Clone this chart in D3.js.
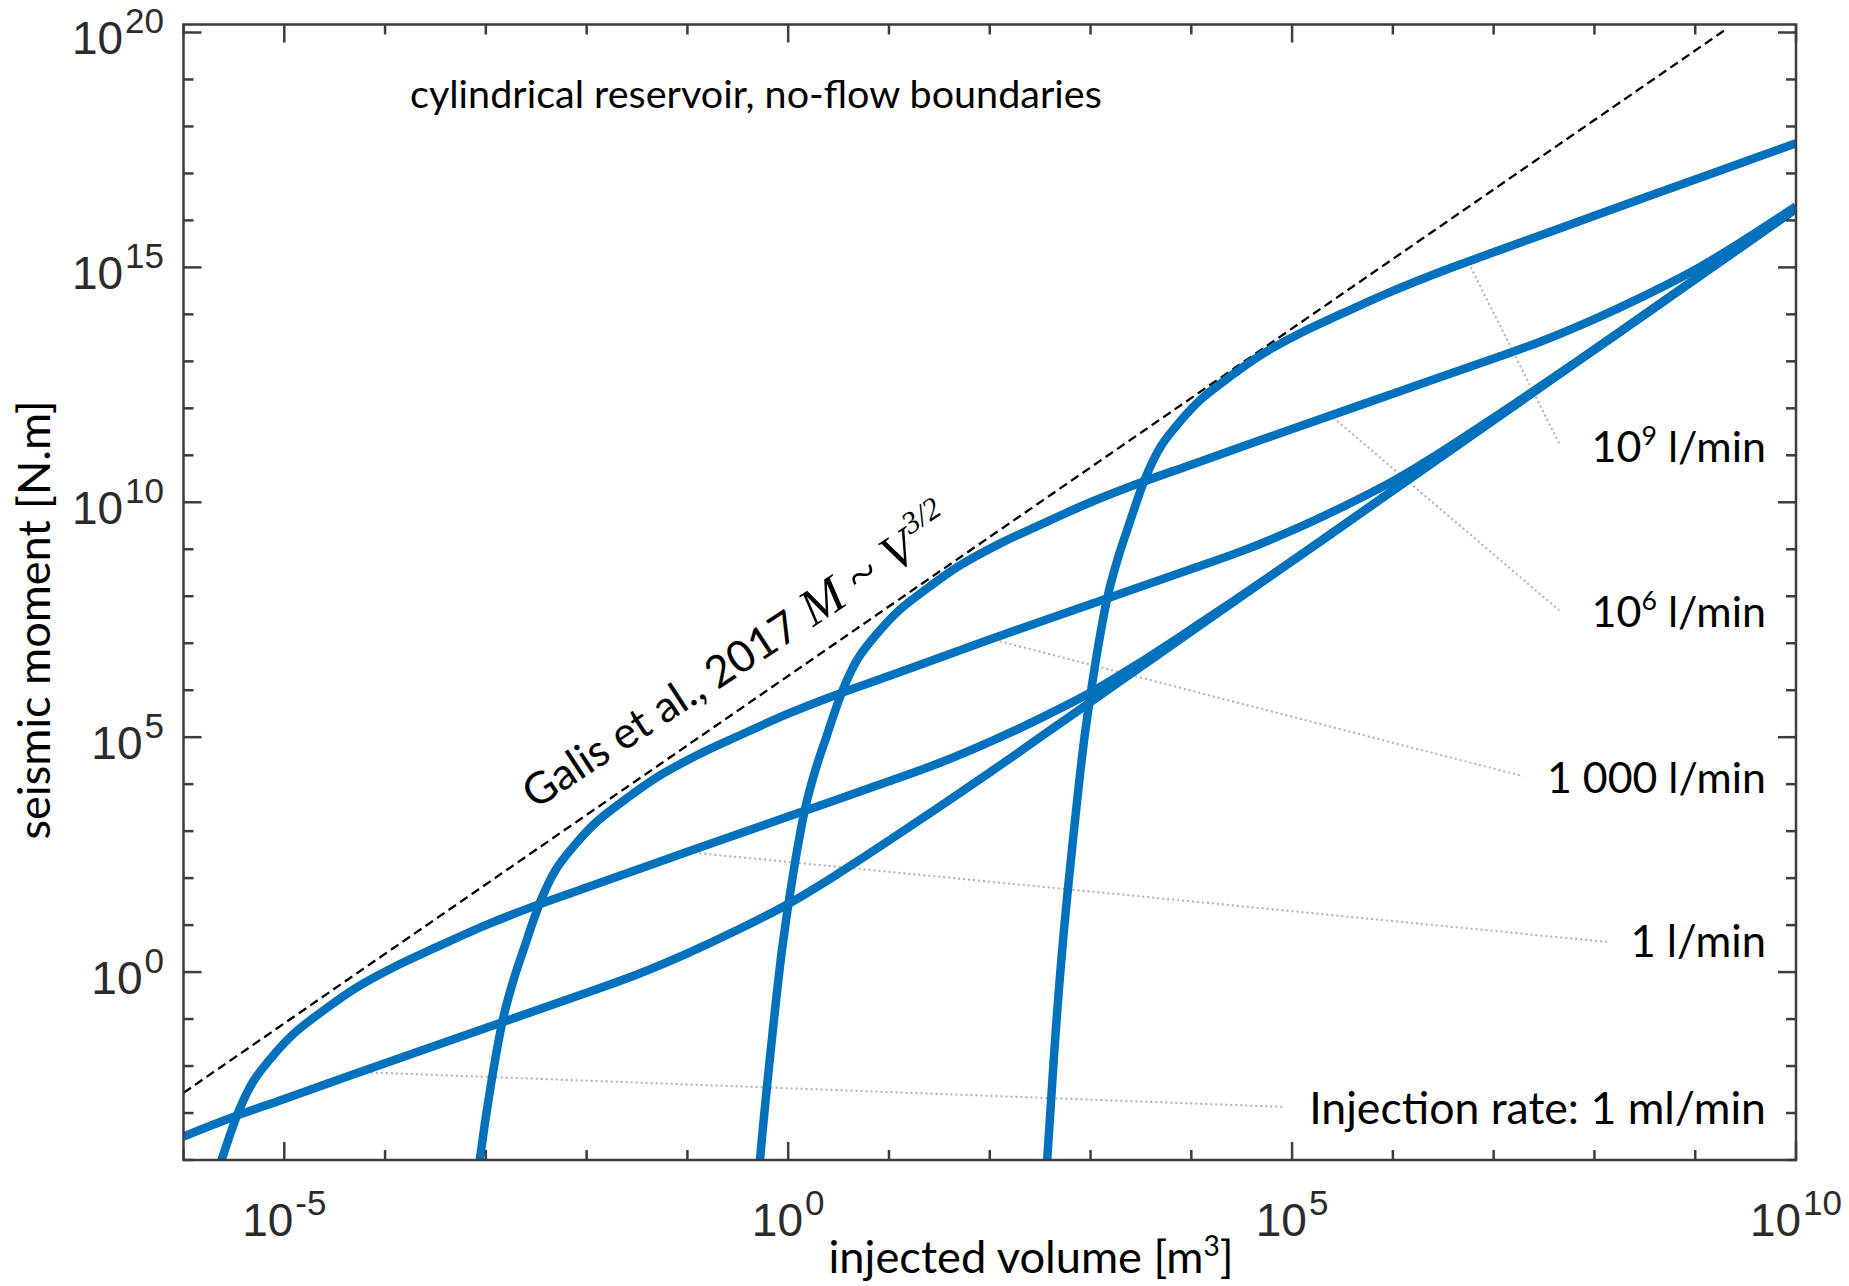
<!DOCTYPE html>
<html>
<head>
<meta charset="utf-8">
<script src="https://cdn.jsdelivr.net/npm/d3@7"></script>
<style>
  html, body { margin: 0; padding: 0; background: #fff; }
  svg { display: block; }
</style>
</head>
<body>
<svg id="chart" width="1849" height="1286"></svg>
<script>
// Each curve: [log10 injected volume (m³), log10 seismic moment (N·m)]
const rate1mlLog = [
  [-6.0, -3.5], [-5.5, -3.08], [-5.0, -2.7], [-4.0, -1.94], [-3.0, -1.19], [-2.0, -0.44],
  [-1.5, -0.05], [-1.0, 0.4], [-0.5, 0.9], [0.0, 1.45], [0.5, 2.1], [1.0, 2.8], [2.0, 4.25],
  [3.0, 5.75], [5.0, 8.75], [7.0, 11.75], [10.0, 16.25]
];
const rate1lLog = [
  [-5.73, -4.7], [-5.63, -4.05], [-5.45, -2.95], [-5.3, -2.3], [-5.1, -1.75], [-4.9, -1.3],
  [-4.6, -0.8], [-4.3, -0.35], [-3.9, 0.12], [-3.5, 0.52], [-3.0, 1.0], [-2.5, 1.42],
  [-2.0, 1.8], [-1.0, 2.56], [0.0, 3.31], [1.0, 4.06], [1.5, 4.45], [2.0, 4.9], [2.5, 5.4],
  [3.0, 5.95], [3.5, 6.6], [4.0, 7.3], [5.0, 8.75], [6.0, 10.25], [8.0, 13.25], [10.0, 16.25]
];
const rate1000lLog = [
  [-3.17, -6.1], [-3.06, -4.0], [-2.95, -2.4], [-2.83, -1.0], [-2.73, -0.2], [-2.63, 0.45],
  [-2.45, 1.55], [-2.3, 2.2], [-2.1, 2.75], [-1.9, 3.2], [-1.6, 3.7], [-1.3, 4.15],
  [-0.9, 4.62], [-0.5, 5.02], [0.0, 5.5], [0.5, 5.92], [1.0, 6.3], [2.0, 7.08], [3.0, 7.83],
  [4.0, 8.58], [4.5, 8.96], [5.0, 9.4], [5.5, 9.9], [6.0, 10.45], [6.5, 11.1], [7.0, 11.8],
  [8.0, 13.25], [9.0, 14.75], [10.0, 16.25]
];
const rate1e6lLog = [
  [-0.36, -6.2], [-0.28, -4.0], [-0.17, -1.6], [-0.06, 0.5], [0.05, 2.1], [0.17, 3.5],
  [0.27, 4.3], [0.37, 4.95], [0.55, 6.05], [0.7, 6.7], [0.9, 7.25], [1.1, 7.7], [1.4, 8.2],
  [1.7, 8.65], [2.1, 9.12], [2.5, 9.52], [3.0, 10.0], [3.5, 10.42], [4.0, 10.8], [5.0, 11.56],
  [6.0, 12.31], [7.0, 13.06], [7.5, 13.45], [8.0, 13.9], [8.5, 14.4], [9.0, 14.95],
  [9.5, 15.6], [10.0, 16.3]
];
const rate1e9lLog = [
  [2.5, -6.5], [2.57, -4.0], [2.64, -1.7], [2.72, 0.5], [2.83, 2.9], [2.94, 5.0], [3.05, 6.6],
  [3.17, 8.0], [3.27, 8.8], [3.37, 9.45], [3.55, 10.55], [3.7, 11.2], [3.9, 11.75],
  [4.1, 12.2], [4.4, 12.7], [4.7, 13.15], [5.1, 13.62], [5.5, 14.02], [6.0, 14.5],
  [6.5, 14.93], [7.0, 15.32], [8.0, 16.1], [9.0, 16.87], [10.0, 17.64]
];
// Upper bound M ~ V^(3/2) (Galis et al., 2017)
const galisLog = [[-6.0, -2.57], [9.3, 20.06]];

// Leader lines: from a point on a curve to its label
const leaderFromLog = [[6.75, 15.1], [5.41, 11.8], [1.955, 7.12], [-1.03, 2.56], [-4.24, -2.13]];
const leaderToLog   = [[7.65, 11.25], [7.65, 7.70], [7.29, 4.17], [8.13, 0.64], [4.92, -2.87]];

// Rate labels: [prefix, superscript, suffix]
const rateLabels = [
  ["10", "9", " l/min"],
  ["10", "6", " l/min"],
  ["1 000 l/min", "", ""],
  ["1 l/min", "", ""],
  ["Injection rate: 1 ml/min", "", ""]
];

const xTickExps = d3.range(-6, 11);
const xLabelExps = [-5, 0, 5, 10];
const yTickExps = d3.range(-4, 21);
const yLabelExps = [0, 5, 10, 15, 20];

// ---------------------------------------------------------------------------
const L = 183.5, R = 1796, T = 24.5, B = 1160;
const x = d3.scaleLog().domain([1e-6, 1e10]).range([L, R]);
const y = d3.scaleLog().domain([1e-4, Math.pow(10, 20.17)]).range([B, T]);
const px = d => x(Math.pow(10, d[0]));
const py = d => y(Math.pow(10, d[1]));

const svg = d3.select("#chart");
const SANS = "Lato, 'Open Sans', sans-serif";
const SERIF = "'Liberation Serif', 'DejaVu Serif', serif";
const TICKFONT = "'Liberation Sans', Arial, Helvetica, sans-serif";
const AXIS = "#3d3d3d";
const BLUE = "#0072BD";
const BASE = 46;

// Scale a text element's font so that it spans the given width
function fitWidth(sel, width) {
  const w = sel.node().getComputedTextLength();
  const k = width / w;
  sel.attr("font-size", BASE * k);
  sel.selectAll("tspan").each(function () {
    const fs = this.getAttribute("font-size");
    if (fs) this.setAttribute("font-size", parseFloat(fs) * k);
  });
  return k;
}

svg.append("defs").append("clipPath").attr("id", "plotclip")
  .append("rect").attr("x", L).attr("y", T).attr("width", R - L).attr("height", B - T);

const plot = svg.append("g").attr("clip-path", "url(#plotclip)");

// Galis bound
plot.append("path")
  .attr("d", d3.line().x(px).y(py)(galisLog))
  .attr("fill", "none").attr("stroke", "#000").attr("stroke-width", 2.3)
  .attr("stroke-dasharray", "9,5");

// Leader lines
leaderFromLog.forEach((f, i) => {
  const t = leaderToLog[i];
  plot.append("line")
    .attr("x1", px(f)).attr("y1", py(f)).attr("x2", px(t)).attr("y2", py(t))
    .attr("stroke", "#b0b0b0").attr("stroke-width", 2).attr("stroke-dasharray", "2,3");
});

// Moment curves
const line = d3.line().x(px).y(py).curve(d3.curveCatmullRom.alpha(0.5));
[rate1mlLog, rate1lLog, rate1000lLog, rate1e6lLog, rate1e9lLog].forEach(c => {
  plot.append("path").attr("d", line(c))
    .attr("fill", "none").attr("stroke", BLUE).attr("stroke-width", 8.5)
    .attr("stroke-linejoin", "round").attr("stroke-linecap", "butt");
});

// Frame and ticks (all four sides, inward)
const axes = svg.append("g").attr("stroke", AXIS).attr("stroke-width", 2.5);
axes.append("rect").attr("x", L).attr("y", T).attr("width", R - L).attr("height", B - T)
  .attr("fill", "none");
xTickExps.forEach(e => {
  const xx = x(Math.pow(10, e));
  const len = xLabelExps.includes(e) ? 18 : 10;
  axes.append("line").attr("x1", xx).attr("x2", xx).attr("y1", B).attr("y2", B - len);
  axes.append("line").attr("x1", xx).attr("x2", xx).attr("y1", T).attr("y2", T + len);
});
yTickExps.forEach(e => {
  const yy = y(Math.pow(10, e));
  const len = yLabelExps.includes(e) ? 18 : 10;
  axes.append("line").attr("y1", yy).attr("y2", yy).attr("x1", L).attr("x2", L + len);
  axes.append("line").attr("y1", yy).attr("y2", yy).attr("x1", R).attr("x2", R - len);
});

// Tick labels: 10 with superscript exponent
function powLabel(sel, e) {
  sel.append("tspan").text("10");
  sel.append("tspan").attr("dx", 2).attr("dy", -21).attr("font-size", 35)
    .text(e < 0 ? "-" + (-e) : String(e));
}
xLabelExps.forEach(e => {
  const t = svg.append("text").attr("x", x(Math.pow(10, e))).attr("y", 1236)
    .attr("text-anchor", "middle").attr("font-family", TICKFONT).attr("font-size", 46)
    .attr("fill", "#2b2b2b");
  powLabel(t, e);
});
yLabelExps.forEach(e => {
  const t = svg.append("text").attr("x", 164).attr("y", y(Math.pow(10, e)) + 22)
    .attr("text-anchor", "end").attr("font-family", TICKFONT).attr("font-size", 46)
    .attr("fill", "#2b2b2b");
  powLabel(t, e);
});

// Axis titles
const yt = svg.append("text").attr("transform", "translate(50,620) rotate(-90)")
  .attr("text-anchor", "middle").attr("font-family", SANS).attr("font-size", BASE)
  .attr("fill", "#000").text("seismic moment [N.m]");
fitWidth(yt, 439);
const xt = svg.append("text").attr("x", 1031).attr("y", 1273).attr("text-anchor", "middle")
  .attr("font-family", SANS).attr("font-size", BASE).attr("fill", "#000");
xt.append("tspan").text("injected volume [m");
xt.append("tspan").attr("dy", -17).attr("font-size", BASE * 0.62).text("3");
xt.append("tspan").attr("dy", 17).text("]");
fitWidth(xt, 405);

// Panel note
const note = svg.append("text").attr("x", 410).attr("y", 108).attr("font-family", SANS)
  .attr("font-size", BASE).attr("fill", "#000")
  .text("cylindrical reservoir, no-flow boundaries");
fitWidth(note, 692);

// Rate labels
const labelBaselines = [461.7, 627.3, 792.7, 957.3, 1124];
const labelWidths = [174.5, 174.5, 219, 135.6, 457];
rateLabels.forEach((lab, i) => {
  const t = svg.append("text").attr("x", 1766).attr("y", labelBaselines[i])
    .attr("text-anchor", "end").attr("font-family", SANS).attr("font-size", BASE)
    .attr("fill", "#000");
  t.append("tspan").text(lab[0]);
  if (lab[1]) {
    t.append("tspan").attr("dy", -17).attr("font-size", BASE * 0.62).text(lab[1]);
    t.append("tspan").attr("dy", 17).text(lab[2]);
  }
  fitWidth(t, labelWidths[i]);
});

// Galis annotation along the bound
const gt = svg.append("text").attr("transform", "translate(535,810) rotate(-33.3)")
  .attr("font-family", SANS).attr("font-size", BASE).attr("fill", "#000");
const gSans = gt.append("tspan").text("Galis et al., 2017");
const kG = 320 / gSans.node().getComputedTextLength();
gt.attr("font-size", BASE * kG);
const MS = BASE * kG * 1.18;
gt.append("tspan").attr("font-family", SERIF).attr("font-size", MS).text(" ");
gt.append("tspan").attr("font-family", SERIF).attr("font-style", "italic")
  .attr("font-size", MS).text("M");
gt.append("tspan").attr("font-family", SERIF).attr("font-size", MS).text(" ~ ");
gt.append("tspan").attr("font-family", SERIF).attr("font-style", "italic")
  .attr("font-size", MS).text("V");
gt.append("tspan").attr("font-family", SERIF).attr("font-style", "italic")
  .attr("dx", 3).attr("dy", -24).attr("font-size", MS * 0.6).text("3/2");
</script>
</body>
</html>
